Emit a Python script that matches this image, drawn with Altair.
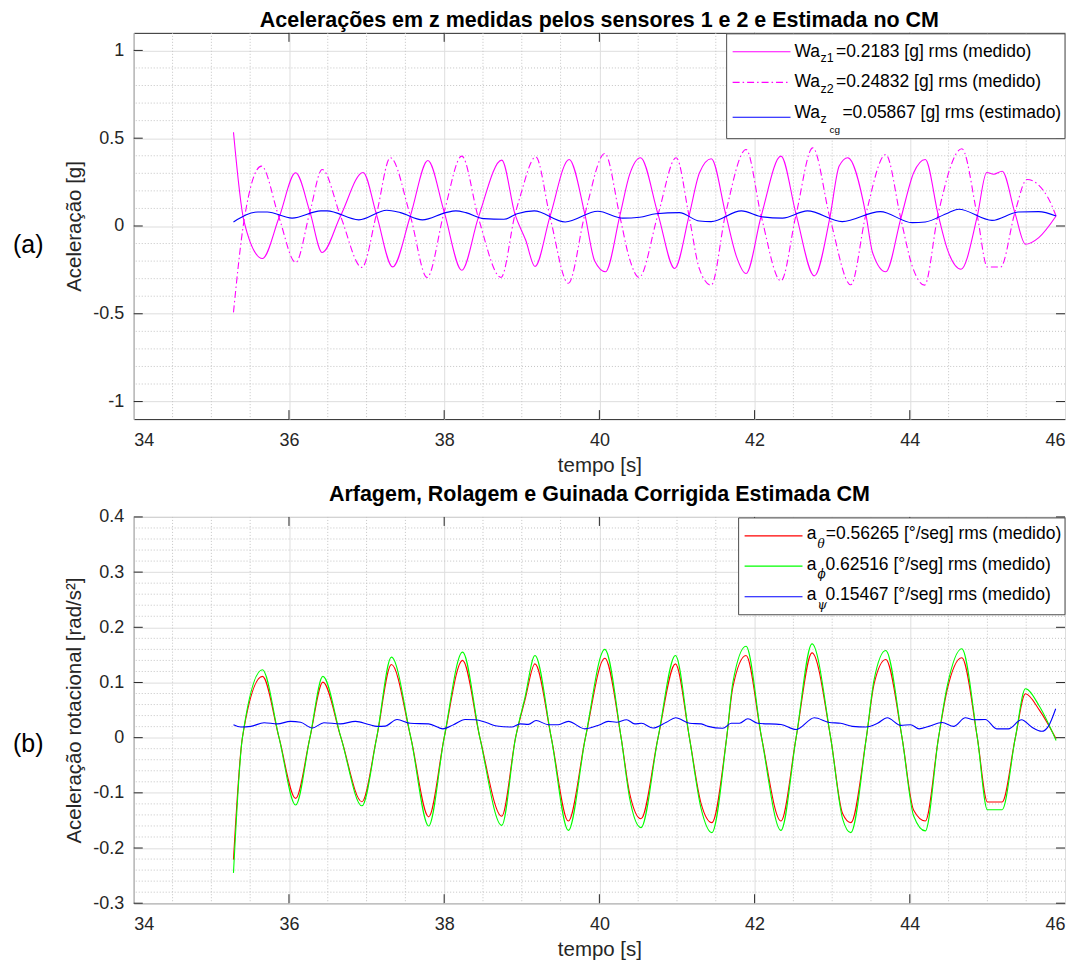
import altair as alt
import pandas as pd

# ---------------- data ----------------
# Panel (a): vertical accelerations [g]
t_z1 = [35.285, 35.42, 35.658, 35.872, 36.086, 36.27, 36.428, 36.664, 36.955, 37.127,
        37.336, 37.564, 37.79, 38.0, 38.227, 38.44, 38.742, 38.913, 39.05, 39.17,
        39.363, 39.61, 39.813, 39.94, 40.078, 40.263, 40.39, 40.53, 40.756, 40.97,
        41.155, 41.29, 41.442, 41.626, 41.763, 41.89, 42.085, 42.34, 42.535, 42.77,
        42.97, 43.09, 43.2, 43.434, 43.52, 43.69, 43.884, 44.05, 44.2, 44.364,
        44.483, 44.66, 44.87, 44.99, 45.08, 45.19, 45.354, 45.49, 45.662, 45.885]
v_z1 = [0.534, 0.028, -0.185, 0.048, 0.303, 0.08, -0.151, 0.057, 0.305, 0.066,
        -0.233, 0.057, 0.373, 0.08, -0.252, 0.048, 0.375, 0.066, -0.08, -0.231,
        0.053, 0.379, 0.066, -0.2, -0.261, 0.057, 0.294, 0.389, 0.066, -0.242,
        0.057, 0.303, 0.383, 0.07, -0.17, -0.271, 0.057, 0.398, 0.066, -0.284,
        0.048, 0.341, 0.389, 0.066, -0.151, -0.261, 0.042, 0.303, 0.379, 0.066,
        -0.132, -0.246, 0.057, 0.305, 0.295, 0.312, 0.076, -0.104, -0.066, 0.057]

t_z2 = [35.285, 35.42, 35.645, 35.872, 36.086, 36.27, 36.428, 36.664, 36.94, 37.127,
        37.307, 37.564, 37.78, 38.0, 38.227, 38.44, 38.733, 38.913, 38.98, 39.18,
        39.363, 39.6, 39.813, 40.07, 40.263, 40.39, 40.51, 40.756, 40.99, 41.155,
        41.29, 41.44, 41.626, 41.89, 42.085, 42.34, 42.535, 42.75, 42.97, 43.24,
        43.434, 43.69, 43.884, 44.03, 44.19, 44.364, 44.67, 44.87, 45.0, 45.17,
        45.354, 45.51, 45.77, 45.885]
v_z2 = [-0.492, 0.028, 0.341, 0.048, -0.208, 0.08, 0.322, 0.057, -0.236, 0.066,
        0.389, 0.057, -0.293, 0.08, 0.398, 0.048, -0.293, 0.066, 0.17, 0.393,
        0.053, -0.326, 0.066, 0.413, 0.057, -0.189, -0.293, 0.066, 0.389, 0.057,
        -0.246, -0.337, 0.07, 0.436, 0.057, -0.313, 0.066, 0.445, 0.048, -0.335,
        0.066, 0.407, 0.042, -0.227, -0.337, 0.066, 0.44, 0.057, -0.234, -0.234,
        0.076, 0.265, 0.17, 0.057]

t_zcg = [35.285, 35.6, 35.72, 36.04, 36.41, 36.49, 36.9, 37.26, 37.436, 37.72,
         38.02, 38.15, 38.28, 38.51, 38.77, 38.94, 39.16, 39.56, 39.98, 40.3,
         40.52, 40.73, 41.03, 41.29, 41.44, 41.83, 42.1, 42.36, 42.68, 43.13,
         43.62, 44.03, 44.2, 44.5, 44.63, 45.06, 45.4, 45.66, 45.885]
v_zcg = [0.023, 0.08, 0.08, 0.045, 0.086, 0.086, 0.035, 0.09, 0.076, 0.035,
         0.076, 0.086, 0.076, 0.042, 0.038, 0.07, 0.086, 0.023, 0.084, 0.045,
         0.05, 0.07, 0.076, 0.028, 0.025, 0.086, 0.052, 0.045, 0.086, 0.025,
         0.082, 0.019, 0.023, 0.076, 0.095, 0.032, 0.08, 0.082, 0.057]

# Panel (b): rotational accelerations [rad/s^2]
t_rot = [35.285, 35.40, 35.658, 35.872, 36.086, 36.27, 36.437, 36.67, 36.94, 37.13,
         37.32, 37.57, 37.80, 38.0, 38.237, 38.46, 38.742, 38.92, 39.04, 39.17,
         39.38, 39.6, 39.82, 40.07, 40.28, 40.39, 40.536, 40.756, 40.98, 41.16,
         41.31, 41.45, 41.64, 41.72, 41.89, 42.09, 42.34, 42.535, 42.74, 42.98,
         43.134, 43.24, 43.44, 43.54, 43.69, 43.9, 44.05, 44.2, 44.37, 44.48,
         44.67, 44.87, 45.0, 45.19, 45.36, 45.49, 45.67, 45.885]
v_theta = [-0.221, 0.0, 0.111, 0.0, -0.110, 0.0, 0.1006, 0.0, -0.116, 0.0,
           0.1326, 0.0, -0.1435, 0.0, 0.140, 0.0, -0.1423, 0.0, 0.0675, 0.1338,
           0.0, -0.151, 0.0, 0.144, 0.0, -0.101, -0.147, 0.0, 0.1338, 0.0,
           -0.119, -0.154, 0.0, 0.0915, 0.149, 0.0, -0.151, 0.0, 0.1537, 0.0,
           -0.1375, -0.154, 0.0, 0.0976, 0.1416, 0.0, -0.1315, -0.151, 0.0, 0.0856,
           0.1447, 0.0, -0.1165, -0.1165, 0.0, 0.0795, 0.05, -0.002]
v_phi = [-0.245, 0.0, 0.123, 0.0, -0.122, 0.0, 0.111, 0.0, -0.1235, 0.0,
         0.146, 0.0, -0.16, 0.0, 0.155, 0.0, -0.159, 0.0, 0.072, 0.149,
         0.0, -0.168, 0.0, 0.16, 0.0, -0.11, -0.163, 0.0, 0.149, 0.0,
         -0.128, -0.172, 0.0, 0.1, 0.1657, 0.0, -0.168, 0.0, 0.17, 0.0,
         -0.147, -0.172, 0.0, 0.105, 0.158, 0.0, -0.142, -0.169, 0.0, 0.092,
         0.161, 0.0, -0.1305, -0.1305, 0.0, 0.0886, 0.057, -0.005]

t_psi = [35.285, 35.38, 35.508, 35.68, 35.85, 36.02, 36.15, 36.30, 36.45, 36.66,
         36.857, 37.028, 37.135, 37.24, 37.393, 37.564, 37.80, 37.984, 38.12, 38.27,
         38.40, 38.55, 38.678, 38.87, 38.978, 39.085, 39.184, 39.342, 39.47, 39.6,
         39.813, 40.006, 40.113, 40.22, 40.35, 40.456, 40.542, 40.692, 40.863, 40.983,
         41.163, 41.313, 41.4, 41.59, 41.699, 41.806, 41.913, 42.04, 42.34, 42.535,
         42.77, 42.963, 43.11, 43.26, 43.434, 43.584, 43.71, 43.884, 44.01, 44.12,
         44.245, 44.416, 44.566, 44.716, 44.823, 44.973, 45.12, 45.27, 45.44, 45.57,
         45.70, 45.785, 45.88]
v_psi = [0.0235, 0.0193, 0.0205, 0.027, 0.025, 0.0295, 0.028, 0.0175, 0.027, 0.025,
         0.0295, 0.024, 0.0205, 0.021, 0.033, 0.026, 0.025, 0.016, 0.0235, 0.033,
         0.0325, 0.027, 0.021, 0.0193, 0.025, 0.024, 0.031, 0.0235, 0.0235, 0.0295,
         0.016, 0.0235, 0.0295, 0.028, 0.0325, 0.025, 0.026, 0.0175, 0.028, 0.0361,
         0.026, 0.025, 0.0205, 0.017, 0.026, 0.026, 0.0343, 0.026, 0.024, 0.0149,
         0.0361, 0.0276, 0.026, 0.0205, 0.0193, 0.026, 0.0361, 0.0222, 0.0235, 0.016,
         0.0205, 0.0276, 0.0205, 0.0361, 0.0325, 0.033, 0.016, 0.016, 0.0325, 0.0193,
         0.0115, 0.0205, 0.0524]

# axis ticks
x_major = [34, 36, 38, 40, 42, 44, 46]
x_minor = [34 + 0.5 * k for k in range(1, 24) if (34 + 0.5 * k) % 2 != 0]
ya_major = [-1, -0.5, 0, 0.5, 1]
ya_minor = [round(0.1 * k, 1) for k in range(-10, 11) if k % 5 != 0]
yb_major = [-0.3, -0.2, -0.1, 0, 0.1, 0.2, 0.3, 0.4]
yb_minor = [round(0.02 * k, 2) for k in range(-15, 20) if k % 5 != 0]

title_a = "Acelerações em z medidas pelos sensores 1 e 2 e Estimada no CM"
title_b = "Arfagem, Rolagem e Guinada Corrigida Estimada CM"

# ---------------- styling ----------------
FONT = "Liberation Sans"
SERIF = "DejaVu Serif"
TXT = "#262626"
W, H = 933, 387
MAGENTA, BLUE, RED, GREEN = "#ff00ff", "#0000ff", "#ff0000", "#00ff00"
DASHDOT = [7, 3, 1.5, 3]
LEG_FS, SUB_FS, SUBSUB_FS = 17.5, 12.5, 10
TITLE_FS = 21.5


def one(s):
    return pd.DataFrame({"s": [s]})


def txt(s, x, y, size=LEG_FS, font=FONT, style="normal", align="left", color="#000"):
    return alt.Chart(one(s)).mark_text(
        align=align, baseline="alphabetic", fontSize=size, font=font,
        fontStyle=style, color=color
    ).encode(text="s:N", x=alt.value(x), y=alt.value(y))


def panel(xs, ys, y_major, y_minor, ytitle, series, legend_layers, tag, tag_y, title, toff):
    fmt = "datum.value < 0 ? '-' + format(-datum.value, '~g') : format(datum.value, '~g')"
    ax_x = alt.Axis(
        values=x_major, format="d", title="tempo [s]", grid=True, gridColor="#dedede",
        gridWidth=1, ticks=False, tickSize=0, domain=False, labelFontSize=18,
        labelFont=FONT, labelColor=TXT, labelPadding=21, labelBaseline="middle",
        titleFont=FONT, titleFontSize=20.5, titleFontWeight="normal", titleColor=TXT,
        titleY=46, titleBaseline="middle")
    ax_y = alt.Axis(
        values=y_major, labelExpr=fmt, title=ytitle, grid=True, gridColor="#dedede",
        gridWidth=1, ticks=False, tickSize=0, domain=False, labelFontSize=18,
        labelFont=FONT, labelColor=TXT, labelPadding=10,
        titleFont=FONT, titleFontSize=20.5, titleFontWeight="normal", titleColor=TXT,
        titleX=-59, titleY=H / 2, titleBaseline="middle", titleAlign="center")

    def X(f):
        return alt.X(f, scale=xs, axis=ax_x)

    def Y(f):
        return alt.Y(f, scale=ys, axis=ax_y)

    gx = alt.Chart(pd.DataFrame({"g": x_minor})).mark_rule(
        color="#c4c4c4", strokeWidth=1, strokeDash=[1, 2]).encode(x=X("g:Q"))
    gy = alt.Chart(pd.DataFrame({"g": y_minor})).mark_rule(
        color="#c4c4c4", strokeWidth=1, strokeDash=[1, 2]).encode(y=Y("g:Q"))
    lines = []
    for t, v, color, dash in series:
        kw = dict(color=color, strokeWidth=1.1, interpolate="monotone", clip=True)
        if dash:
            kw["strokeDash"] = dash
        lines.append(alt.Chart(pd.DataFrame({"t": t, "v": v})).mark_line(**kw).encode(
            x=X("t:Q"), y=Y("v:Q")))
    xt = pd.DataFrame({"m": x_major[1:-1]})
    yt = pd.DataFrame({"m": y_major})
    ticks = [
        alt.Chart(xt).mark_rule(color=TXT).encode(x=X("m:Q"), y=alt.value(0), y2=alt.value(9)),
        alt.Chart(xt).mark_rule(color=TXT).encode(x=X("m:Q"), y=alt.value(H - 9), y2=alt.value(H)),
        alt.Chart(yt).mark_rule(color=TXT).encode(y=Y("m:Q"), x=alt.value(0), x2=alt.value(9)),
        alt.Chart(yt).mark_rule(color=TXT).encode(y=Y("m:Q"), x=alt.value(W - 9), x2=alt.value(W)),
    ]
    tag_layer = txt(tag, -121, tag_y, size=25, color="#000")
    return alt.layer(gx, gy, *lines, *ticks, *legend_layers, tag_layer).properties(
        width=W, height=H,
        title=alt.TitleParams(title, font=FONT, fontSize=TITLE_FS, fontWeight="bold",
                              color="#000", offset=toff, anchor="middle"))


xs = alt.Scale(domain=[34, 46], nice=False, zero=False)
ys_a = alt.Scale(domain=[-1.1, 1.1], nice=False, zero=False)
ys_b = alt.Scale(domain=[-0.3, 0.4], nice=False, zero=False)


def legend_box(x0, y0, x1, y1):
    return alt.Chart(one("")).mark_rect(fill="white", stroke="#4d4d4d", strokeWidth=1).encode(
        x=alt.value(x0), x2=alt.value(x1), y=alt.value(y0), y2=alt.value(y1))


def legend_line(x0, x1, y, color, dash=None):
    kw = dict(color=color, strokeWidth=1.1)
    if dash:
        kw["strokeDash"] = dash
    return alt.Chart(one("")).mark_rule(**kw).encode(
        x=alt.value(x0), x2=alt.value(x1), y=alt.value(y))


leg_a = [
    legend_box(594, 1, 933, 106),
    legend_line(600, 658, 19, MAGENTA),
    legend_line(600, 658, 49.6, MAGENTA, DASHDOT),
    legend_line(600, 658, 84.6, BLUE),
    txt("Wa", 662, 24), txt("z1", 688, 29.5, size=SUB_FS),
    txt("=0.2183 [g] rms (medido)", 703.5, 24),
    txt("Wa", 662, 54.6), txt("z2", 688, 60, size=SUB_FS),
    txt("=0.24832 [g] rms (medido)", 703.5, 54.6),
    txt("Wa", 662, 85.6), txt("z", 688, 90, size=SUB_FS), txt("cg", 697, 100, size=SUBSUB_FS),
    txt("=0.05867 [g] rms (estimado)", 710, 85.6),
]

leg_b = [
    legend_box(606, 1, 933, 98),
    legend_line(612, 670, 19, RED),
    legend_line(612, 670, 49.3, GREEN),
    legend_line(612, 670, 80, BLUE),
    txt("a", 674.3, 22.6), txt("θ", 685, 31, size=12, font=SERIF, style="italic"),
    txt("=0.56265 [°/seg] rms (medido)", 693.3, 22.6),
    txt("a", 674.3, 53.3), txt("ϕ", 685, 61.5, size=12, font=SERIF, style="italic"),
    txt("0.62516 [°/seg] rms (medido)", 693, 53.3),
    txt("a", 674.3, 83.6), txt("ψ", 685, 92, size=12, font=SERIF, style="italic"),
    txt("0.15467 [°/seg] rms (medido)", 693, 83.6),
]

top = panel(xs, ys_a, ya_major, ya_minor, "Aceleração [g]",
            [(t_z1, v_z1, MAGENTA, None), (t_z2, v_z2, MAGENTA, DASHDOT), (t_zcg, v_zcg, BLUE, None)],
            leg_a, "(a)", 221, title_a, 1)
bottom = panel(xs, ys_b, yb_major, yb_minor, "Aceleração rotacional [rad/s²]",
               [(t_rot, v_theta, RED, None), (t_rot, v_phi, GREEN, None), (t_psi, v_psi, BLUE, None)],
               leg_b, "(b)", 236, title_b, 2)

chart = alt.vconcat(top, bottom, spacing=8).configure(
    padding={"left": 4, "top": 0, "right": 4, "bottom": 0}
).configure_view(stroke=TXT, strokeWidth=1)

chart.save("out.html", embed_options={"renderer": "svg", "actions": False})
